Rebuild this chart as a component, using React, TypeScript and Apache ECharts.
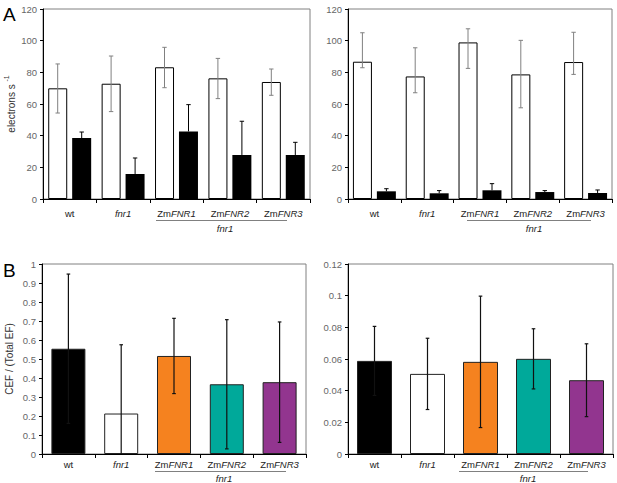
import React, { useEffect, useRef } from "react";
import * as echarts from "echarts";

const categories = ["wt", "fnr1", "ZmFNR1", "ZmFNR2", "ZmFNR3"];

// Panel A, left
const whiteA1 = [69.9, 72.8, 83.2, 76.2, 73.9];
const whiteA1Hi = [85.3, 90.3, 95.8, 88.8, 82.1];
const whiteA1Lo = [54.3, 55.2, 70.3, 63.4, 65.5];
const blackA1 = [38.5, 15.8, 42.7, 27.8, 27.8];
const blackA1Hi = [42.3, 25.9, 59.6, 49.1, 35.8];

// Panel A, right
const whiteA2 = [86.7, 77.4, 98.9, 78.7, 86.5];
const whiteA2Hi = [105.0, 95.5, 107.5, 100.2, 105.3];
const whiteA2Lo = [82.9, 67.1, 82.5, 57.6, 78.7];
const blackA2 = [4.85, 3.6, 5.5, 4.4, 3.8];
const blackA2Hi = [6.5, 5.3, 9.7, 5.3, 5.7];

// Panel B, left
const cefB1 = [0.554, 0.213, 0.516, 0.367, 0.378];
const cefB1Err = [0.393, 0.362, 0.198, 0.34, 0.317];

// Panel B, right
const cefB2 = [0.0588, 0.0506, 0.0582, 0.0601, 0.0466];
const cefB2Err = [0.0218, 0.0225, 0.0415, 0.019, 0.023];

const yTicksA = { min: 0, max: 120, interval: 20 };
const yTicksB1 = { min: 0, max: 1, interval: 0.1 };
const yTicksB2 = { min: 0, max: 0.12, interval: 0.02 };

const barColorsB = ["#000000", "#ffffff", "#F5821F", "#00A99A", "#92358F"];

const FONT = "Liberation Sans, Arial, Helvetica, sans-serif";

function fmtCat(v: string) {
  if (v.startsWith("Zm")) return "{n|Zm}{i|" + v.slice(2) + "}";
  if (v === "wt") return "{n|wt}";
  return "{i|" + v + "}";
}

function makeErr(offset: number, color: string, cap: number, lw: number, lowCap: boolean) {
  return (params: any, api: any) => {
    const idx = api.value(0);
    const lo = api.coord([idx, Math.max(0, api.value(1))]);
    const hi = api.coord([idx, api.value(2)]);
    const x = lo[0] + offset;
    const style = { stroke: color, lineWidth: lw };
    const children: any[] = [
      { type: "line", shape: { x1: x, y1: lo[1], x2: x, y2: hi[1] }, style },
      { type: "line", shape: { x1: x - cap, y1: hi[1], x2: x + cap, y2: hi[1] }, style },
    ];
    if (lowCap && api.value(1) > 0) {
      children.push({ type: "line", shape: { x1: x - cap, y1: lo[1], x2: x + cap, y2: lo[1] }, style });
    }
    return { type: "group", children };
  };
}

function xAxisFor(gridIndex: number, margin: number) {
  return {
    gridIndex,
    type: "category",
    data: categories,
    axisLine: { lineStyle: { color: "#000", width: 1 } },
    axisTick: { show: true, length: 4, lineStyle: { color: "#000" } },
    axisLabel: {
      interval: 0,
      margin,
      formatter: fmtCat,
      rich: {
        n: { fontFamily: FONT, fontSize: 9.5, color: "#222" },
        i: { fontFamily: FONT, fontSize: 9.5, color: "#222", fontStyle: "italic" },
      },
    },
    splitLine: { show: false },
  };
}

function yAxisFor(gridIndex: number, ticks: any, name?: any, nameGap?: number) {
  return {
    gridIndex,
    type: "value",
    min: ticks.min,
    max: ticks.max,
    interval: ticks.interval,
    axisLine: { show: true, lineStyle: { color: "#000", width: 1 } },
    axisTick: { show: true, length: 3, lineStyle: { color: "#000" } },
    axisLabel: { fontFamily: FONT, fontSize: 9.5, color: "#666", margin: 6 },
    splitLine: { show: false },
    name: name || "",
    nameLocation: "middle",
    nameGap: nameGap || 0,
    nameTextStyle: {
      fontFamily: FONT,
      fontSize: 10,
      color: "#333",
      rich: {
        a: { fontFamily: FONT, fontSize: 10, color: "#333", lineHeight: 13, verticalAlign: "bottom" },
        s: { fontFamily: FONT, fontSize: 7, color: "#333", lineHeight: 8, verticalAlign: "top" },
      },
    },
  };
}

export default function App() {
  const ref = useRef<HTMLDivElement>(null);
  useEffect(() => {
    if (!ref.current) return;
    const chart = echarts.init(ref.current, undefined, { renderer: "svg" });
    const gridBase = { show: true, borderColor: "#808080", borderWidth: 1, backgroundColor: "transparent", containLabel: false };
    const errTopWhite = (lo: number[], hi: number[]) => categories.map((c, i) => [i, lo[i], hi[i]]);
    const errTopBlack = (m: number[], hi: number[]) => categories.map((c, i) => [i, m[i], hi[i]]);
    const errSym = (m: number[], e: number[]) => categories.map((c, i) => [i, m[i] - e[i], m[i] + e[i]]);
    const barSeriesB = (idx: number, vals: number[], bw: number) => ({
      type: "bar",
      xAxisIndex: idx,
      yAxisIndex: idx,
      barWidth: bw,
      data: vals.map((v, i) => ({ value: v, itemStyle: { color: barColorsB[i] } })),
      itemStyle: { borderColor: "#222", borderWidth: 1 },
    });
    const customErr = (idx: number, data: any[], off: number, color: string, cap: number, lw: number, lowCap: boolean) => ({
      type: "custom",
      xAxisIndex: idx,
      yAxisIndex: idx,
      z: 5,
      data,
      encode: { x: 0, y: [1, 2] },
      renderItem: makeErr(off, color, cap, lw, lowCap),
    });

    const option: any = {
      animation: false,
      textStyle: { fontFamily: FONT },
      grid: [
        { ...gridBase, left: 43, top: 9, width: 267, height: 190 },
        { ...gridBase, left: 348, top: 9, width: 264, height: 190 },
        { ...gridBase, left: 42, top: 264, width: 264, height: 190 },
        { ...gridBase, left: 348, top: 264, width: 265, height: 190 },
      ],
      xAxis: [xAxisFor(0, 9), xAxisFor(1, 9), xAxisFor(2, 5), xAxisFor(3, 5)],
      yAxis: [
        yAxisFor(0, yTicksA, "{a|electrons s }{s|-1}", 27),
        yAxisFor(1, yTicksA),
        yAxisFor(2, yTicksB1, "CEF / (Total EF)", 28),
        yAxisFor(3, yTicksB2),
      ],
      series: [
        {
          type: "bar", xAxisIndex: 0, yAxisIndex: 0, barWidth: 19, barGap: "26%", data: whiteA1,
          itemStyle: { color: "#fff", borderColor: "#000", borderWidth: 1 },
        },
        { type: "bar", xAxisIndex: 0, yAxisIndex: 0, barWidth: 19, barGap: "26%", data: blackA1, itemStyle: { color: "#000" } },
        customErr(0, errTopWhite(whiteA1Lo, whiteA1Hi), -12, "#808080", 2.2, 1, true),
        customErr(0, errTopBlack(blackA1, blackA1Hi), 12, "#000", 2.2, 1, false),
        {
          type: "bar", xAxisIndex: 1, yAxisIndex: 1, barWidth: 19, barGap: "26%", data: whiteA2,
          itemStyle: { color: "#fff", borderColor: "#000", borderWidth: 1 },
        },
        { type: "bar", xAxisIndex: 1, yAxisIndex: 1, barWidth: 19, barGap: "26%", data: blackA2, itemStyle: { color: "#000" } },
        customErr(1, errTopWhite(whiteA2Lo, whiteA2Hi), -12, "#808080", 2.2, 1, true),
        customErr(1, errTopBlack(blackA2, blackA2Hi), 12, "#000", 2.2, 1, false),
        barSeriesB(2, cefB1, 34),
        customErr(2, errSym(cefB1, cefB1Err), 0, "#111", 1.8, 1.2, true),
        barSeriesB(3, cefB2, 35),
        customErr(3, errSym(cefB2, cefB2Err), 0, "#111", 1.8, 1.2, true),
      ],
      graphic: [
        { type: "text", left: 3, top: 5, style: { text: "A", fontFamily: FONT, fontSize: 19, fill: "#000" } },
        { type: "text", left: 3, top: 261, style: { text: "B", fontFamily: FONT, fontSize: 19, fill: "#000" } },
        { type: "line", shape: { x1: 156, y1: 220.5, x2: 287, y2: 220.5 }, style: { stroke: "#808080", lineWidth: 1 } },
        { type: "line", shape: { x1: 467, y1: 220.5, x2: 591, y2: 220.5 }, style: { stroke: "#808080", lineWidth: 1 } },
        { type: "line", shape: { x1: 155, y1: 471.5, x2: 286, y2: 471.5 }, style: { stroke: "#808080", lineWidth: 1 } },
        { type: "line", shape: { x1: 459, y1: 471.5, x2: 588, y2: 471.5 }, style: { stroke: "#808080", lineWidth: 1 } },
        { type: "text", x: 225, y: 228, style: { text: "fnr1", fontFamily: FONT, fontSize: 9.5, fontStyle: "italic", fill: "#222", align: "center", verticalAlign: "middle" } },
        { type: "text", x: 534, y: 228, style: { text: "fnr1", fontFamily: FONT, fontSize: 9.5, fontStyle: "italic", fill: "#222", align: "center", verticalAlign: "middle" } },
        { type: "text", x: 224, y: 478.5, style: { text: "fnr1", fontFamily: FONT, fontSize: 9.5, fontStyle: "italic", fill: "#222", align: "center", verticalAlign: "middle" } },
        { type: "text", x: 528, y: 478.5, style: { text: "fnr1", fontFamily: FONT, fontSize: 9.5, fontStyle: "italic", fill: "#222", align: "center", verticalAlign: "middle" } },
      ],
    };
    chart.setOption(option);
    return () => chart.dispose();
  }, []);
  return <div ref={ref} style={{ position: "absolute", left: 0, top: 0, width: 617, height: 483 }} />;
}
